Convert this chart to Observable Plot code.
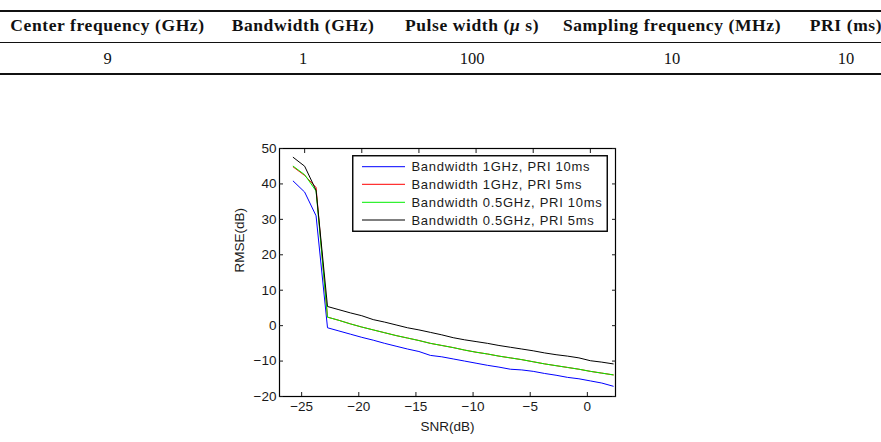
<!DOCTYPE html>
<html><head><meta charset="utf-8">
<script src="https://cdn.jsdelivr.net/npm/d3@7"></script>
<script src="https://cdn.jsdelivr.net/npm/@observablehq/plot@0.6"></script>
<style>
body{margin:0;background:#fff;}
#wrap{position:relative;width:881px;height:442px;overflow:hidden;}
#table{position:relative;width:881px;height:80px;font-family:"Liberation Serif","DejaVu Serif",serif;color:#111;}
.rule{position:absolute;left:0;width:881px;background:#111;}
.cell{position:absolute;transform:translateX(-50%);white-space:nowrap;line-height:1;}
.hdr{font-weight:bold;font-size:17.5px;letter-spacing:0.6px;top:16.5px;}
.val{font-size:16.5px;top:50.5px;}
#legend{position:absolute;left:352px;top:155px;width:256px;height:77px;}
</style>
</head><body>
<div id="wrap">
  <div id="table"></div>
  <div id="chart"></div>
  <div id="legend"></div>
</div>
<script>
// ---- table data ----
const tableHeaders = ["Center frequency (GHz)", "Bandwidth (GHz)", "Pulse width (<i>μ</i> s)", "Sampling frequency (MHz)", "PRI (ms)"];
const tableValues = ["9", "1", "100", "10", "10"];

// ---- chart data ----
const snr = [-26,-25,-24,-23,-22,-21,-20,-19,-18,-17,-16,-15,-14,-13,-12,-11,-10,-9,-8,-7,-6,-5,-4,-3,-2,-1,0,1,2];
const bw1_pri10 = [40.8,37.7,31.0,-0.6,-1.5,-2.4,-3.3,-4.1,-5.0,-5.8,-6.6,-7.3,-8.4,-8.8,-9.4,-10.0,-10.6,-11.2,-11.7,-12.3,-12.5,-12.9,-13.5,-14.0,-14.6,-15.0,-15.6,-16.2,-17.1];
const bw1_pri5 = [44.8,42.4,39.0,2.4,1.5,0.5,-0.4,-1.2,-2.0,-2.8,-3.5,-4.2,-5.0,-5.6,-6.2,-6.9,-7.5,-8.0,-8.6,-9.1,-9.6,-10.2,-10.8,-11.3,-11.8,-12.3,-12.9,-13.4,-13.9];
const bw05_pri10 = [45.0,42.6,38.0,2.4,1.5,0.5,-0.4,-1.2,-2.0,-2.8,-3.5,-4.2,-5.0,-5.6,-6.2,-6.9,-7.5,-8.0,-8.6,-9.1,-9.6,-10.2,-10.8,-11.3,-11.8,-12.3,-12.9,-13.4,-13.9];
const bw05_pri5 = [47.5,45.0,38.2,5.4,4.5,3.6,2.8,1.7,1.0,0.2,-0.6,-1.2,-1.9,-2.6,-3.4,-4.0,-4.5,-5.0,-5.6,-6.1,-6.6,-7.1,-7.7,-8.2,-8.6,-9.1,-9.9,-10.3,-10.8];
const seriesNames = ["Bandwidth 1GHz, PRI 10ms", "Bandwidth 1GHz, PRI 5ms", "Bandwidth 0.5GHz, PRI 10ms", "Bandwidth 0.5GHz, PRI 5ms"];
const seriesColors = ["#0000ff", "#ff0000", "#00ee00", "#000000"];
const seriesValues = [bw1_pri10, bw1_pri5, bw05_pri10, bw05_pri5];
const xTicks = [-25,-20,-15,-10,-5,0];
const yTicks = [-20,-10,0,10,20,30,40,50];
const xLabel = "SNR(dB)";
const yLabel = "RMSE(dB)";

// ---- table ----
const table = document.getElementById("table");
const colCenters = [107.5, 303, 472, 672, 846];
[[10,1.6],[42,1],[73,2]].forEach(([top,h]) => {
  const r = document.createElement("div"); r.className = "rule";
  r.style.top = top + "px"; r.style.height = h + "px"; table.appendChild(r);
});
tableHeaders.forEach((h,i) => {
  const c = document.createElement("div"); c.className = "cell hdr";
  c.style.left = colCenters[i] + "px"; c.innerHTML = h; table.appendChild(c);
});
tableValues.forEach((v,i) => {
  const c = document.createElement("div"); c.className = "cell val";
  c.style.left = colCenters[i] + "px"; c.textContent = v; table.appendChild(c);
});

// ---- chart ----
const chart = Plot.plot({
  width: 881, height: 362,
  marginTop: 68, marginBottom: 46, marginLeft: 279, marginRight: 266,
  style: {fontFamily: "'Liberation Sans', Arial, sans-serif", fontSize: "13.5px", color: "#1a1a1a", background: "#fff"},
  x: {domain: [-27.2, 2.2]},
  y: {domain: [-20, 50]},
  marks: [
    ...seriesValues.map((vals, k) => Plot.line(snr, {x: d => d, y: (d, i) => vals[i], stroke: seriesColors[k], strokeWidth: 1})),
    Plot.frame({stroke: "#000", strokeWidth: 1.2}),
    Plot.axisX(xTicks, {anchor: "bottom", tickSize: -4, tickPadding: 9, dx: -3, label: null}),
    Plot.axisX(xTicks, {anchor: "top", tickSize: -4, tickFormat: () => "", label: null}),
    Plot.axisY(yTicks, {anchor: "left", tickSize: -4, tickPadding: 7, label: null}),
    Plot.axisY(yTicks, {anchor: "right", tickSize: -4, tickFormat: () => "", label: null}),
    Plot.text([xLabel], {frameAnchor: "bottom", dy: 34, text: d => d, fontSize: 13.5}),
    Plot.text([yLabel], {frameAnchor: "left", dx: -40, rotate: -90, text: d => d, fontSize: 13.5})
  ]
});
document.getElementById("chart").appendChild(chart);

// ---- legend (built from the series arrays) ----
const W = 256, H = 77;
const lg = d3.select("#legend").append("svg").attr("width", W).attr("height", H)
  .style("font-family", "'Liberation Sans', Arial, sans-serif").style("font-size", "13px");
lg.append("rect").attr("x", 0.75).attr("y", 0.75).attr("width", W - 1.5).attr("height", H - 1.5)
  .attr("fill", "#fff").attr("stroke", "#000").attr("stroke-width", 1.4);
const rowY = [11.7, 29.3, 47.3, 65];
seriesNames.forEach((name, k) => {
  lg.append("line").attr("x1", 10).attr("x2", 53).attr("y1", rowY[k]).attr("y2", rowY[k])
    .attr("stroke", seriesColors[k]).attr("stroke-width", 1);
  lg.append("text").attr("x", 59.5).attr("y", rowY[k]).attr("dy", "0.36em")
    .attr("fill", "#1a1a1a").style("letter-spacing", "0.7px").text(name);
});
</script>
</body></html>
